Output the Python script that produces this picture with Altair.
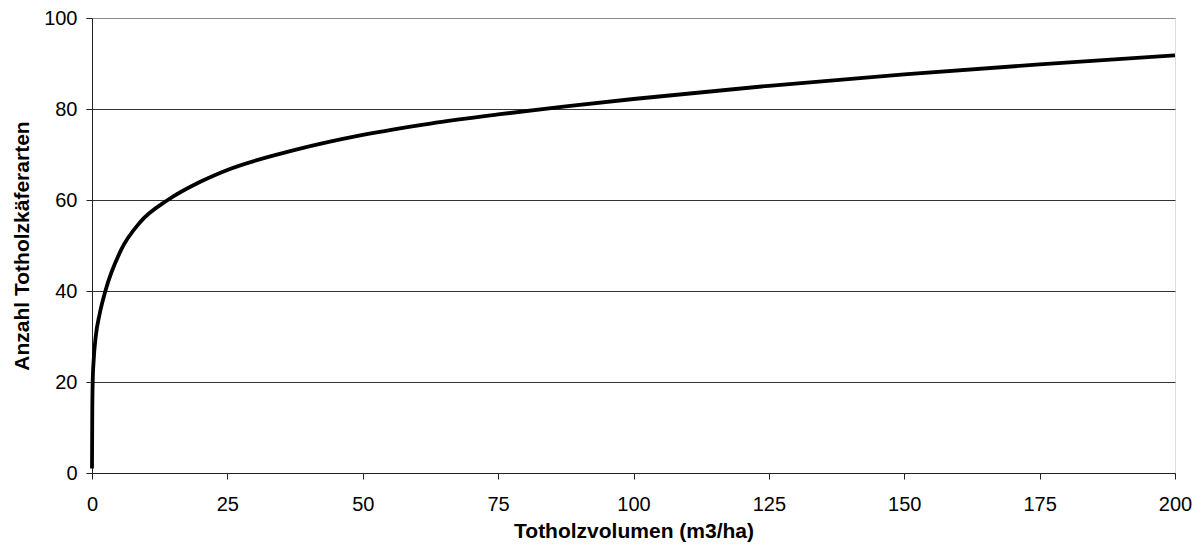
import altair as alt
import pandas as pd

volumen = [0.0, 0.05, 0.13, 0.31, 0.68, 1.42, 2.47, 5.4, 8.8, 14.0, 20.0, 25.0, 37.5, 50.0, 62.5, 75.0, 87.5, 100.0, 125.0, 150.0, 175.0, 200.0]
arten = [1.0, 13.0, 20.0, 24.8, 29.9, 35.0, 40.0, 49.1, 55.0, 60.0, 64.0, 66.6, 71.0, 74.3, 76.8, 78.8, 80.6, 82.2, 85.1, 87.6, 89.8, 91.8]

x_ticks = [0, 25, 50, 75, 100, 125, 150, 175, 200]
y_ticks = [0, 20, 40, 60, 80, 100]

df = pd.DataFrame({"v": volumen, "a": arten})

font = "Liberation Sans"

chart = alt.Chart(df).mark_line(color="black", strokeWidth=3.8, interpolate="monotone").encode(
    x=alt.X("v:Q", scale=alt.Scale(domain=[0, 200], nice=False, zero=True),
            axis=alt.Axis(values=x_ticks, title="Totholzvolumen (m3/ha)", grid=False,
                          tickSize=6, tickColor="#222", domainColor="#222",
                          labelPadding=15, titlePadding=6, labelFontSize=20,
                          titleFontSize=21, labelFont=font, titleFont=font,
                          titleFontWeight="bold", labelColor="black", titleColor="black",
                          labelFlush=False)),
    y=alt.Y("a:Q", scale=alt.Scale(domain=[0, 100], nice=False),
            axis=alt.Axis(values=y_ticks, title="Anzahl Totholzkäferarten", grid=True,
                          gridColor=alt.condition(alt.datum.value == 100, alt.value("#8a8a8a"), alt.value("#333333")),
                          gridWidth=1.2, tickSize=6, tickColor="#222", domainColor="#222",
                          labelPadding=9, titlePadding=11, labelFontSize=20,
                          titleFontSize=21, labelFont=font, titleFont=font,
                          titleFontWeight="bold", labelColor="black", titleColor="black",
                          labelFlush=False)),
).properties(
    width=1083, height=455,
    autosize=alt.AutoSizeParams(type="none"),
    padding={"left": 84, "top": 10, "right": 21, "bottom": 71},
).configure_view(stroke="#8a8a8a", strokeWidth=2).configure(background="white")

chart.save("out.html", embed_options={"renderer": "svg", "actions": False})
